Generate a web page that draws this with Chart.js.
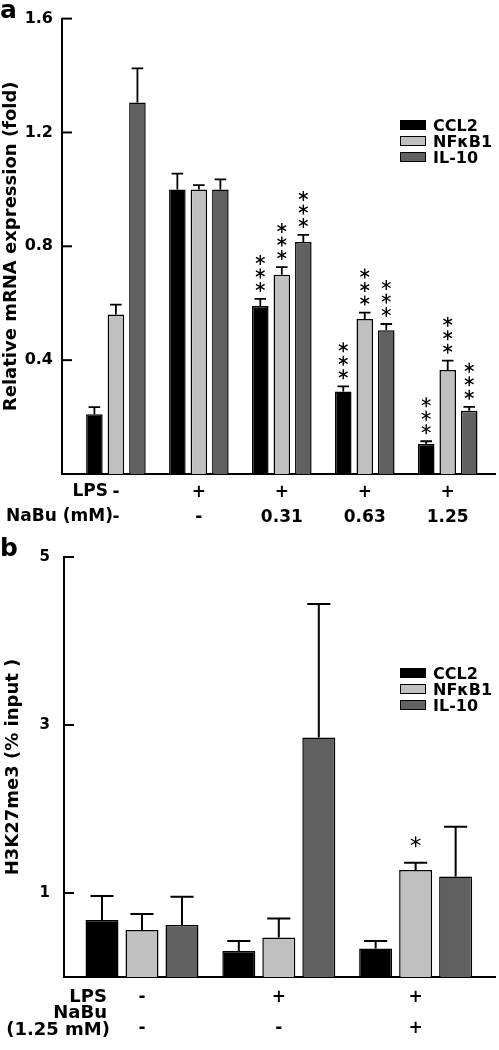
<!DOCTYPE html>
<html>
<head>
<meta charset="utf-8">
<script src="https://cdn.jsdelivr.net/npm/chart.js@4.4.0/dist/chart.umd.min.js"></script>
<style>
    body {
        margin: 0;
        width: 499px;
        height: 1050px;
        position: relative;
        overflow: hidden;
        background: #fff;
        font-family: "DejaVu Sans", sans-serif;
    }
    canvas {
        position: absolute;
        left: 0;
    }
    #chartA {
        top: 0;
    }
    #chartB {
        top: 530px;
    }
    .letter {
        position: absolute;
        left: 0;
        font-weight: bold;
        font-size: 25px;
        line-height: 1;
    }
    .legend {
        position: absolute;
        left: 400px;
        font-size: 16px;
        font-weight: bold;
    }
    .legend .row {
        display: flex;
        align-items: center;
        height: 16px;
    }
    .legend .box {
        width: 26px;
        height: 10px;
        border: 1.5px solid #000;
        box-sizing: border-box;
        margin-right: 7px;
    }
</style>
</head>
<body>
<canvas id="chartA" width="499" height="530"></canvas>
<canvas id="chartB" width="499" height="520"></canvas>
<div class="letter" style="top:-3px">a</div>
<div class="letter" style="top:535px">b</div>
<div class="legend" id="legendA" style="top:117px"></div>
<div class="legend" id="legendB" style="top:665px"></div>
<script>
const seriesNames = ["CCL2", "NF\u03BAB1", "IL-10"]
const seriesColors = ["#000000", "#c0c0c0", "#606060"]

// panel a - mRNA
const lpsA = ["-", "+", "+", "+", "+"]
const nabuA = ["-", "-", "0.31", "0.63", "1.25"]
const ccl2A = [0.21, 1.0, 0.59, 0.29, 0.105]
const nfkb1A = [0.56, 1.0, 0.7, 0.545, 0.365]
const il10A = [1.305, 1.0, 0.815, 0.505, 0.222]
const ccl2ErrA = [0.025, 0.055, 0.025, 0.018, 0.01]
const nfkb1ErrA = [0.035, 0.015, 0.027, 0.022, 0.033]
const il10ErrA = [0.12, 0.035, 0.025, 0.022, 0.014]
const ccl2SigA = ["", "", "***", "***", "***"]
const nfkb1SigA = ["", "", "***", "***", "***"]
const il10SigA = ["", "", "***", "***", "***"]
const yTicksA = [0.4, 0.8, 1.2, 1.6]

// panel b - ChIP
const lpsB = ["-", "+", "+"]
const nabuB = ["-", "-", "+"]
const ccl2B = [0.68, 0.31, 0.34]
const nfkb1B = [0.56, 0.47, 1.275]
const il10B = [0.62, 2.85, 1.195]
const ccl2ErrB = [0.285, 0.12, 0.09]
const nfkb1ErrB = [0.19, 0.225, 0.085]
const il10ErrB = [0.335, 1.59, 0.595]
const ccl2SigB = ["", "", ""]
const nfkb1SigB = ["", "", "*"]
const il10SigB = ["", "", ""]
const yTicksB = [1, 3, 5]

function drawStar(ctx, x, y, r) {
    ctx.beginPath()
    for (let k = 0; k < 3; k++) {
        const a = Math.PI / 2 + (k * Math.PI) / 3
        ctx.moveTo(x - r * Math.cos(a), y - r * Math.sin(a))
        ctx.lineTo(x + r * Math.cos(a), y + r * Math.sin(a))
    }
    ctx.stroke()
}

// error bars, stars, inward ticks, row labels
const extrasPlugin = {
    id: "extras",
    afterDatasetsDraw(chart, args, opts) {
        const ctx = chart.ctx
        const y = chart.scales.y
        ctx.save()
        ctx.strokeStyle = "#000"
        chart.data.datasets.forEach((ds, i) => {
            chart.getDatasetMeta(i).data.forEach((bar, j) => {
                const cap = y.getPixelForValue(ds.data[j].y + ds.errors[j])
                const half = bar.width * 0.35
                ctx.lineWidth = opts.errWidth
                ctx.beginPath()
                ctx.moveTo(bar.x, bar.y)
                ctx.lineTo(bar.x, cap)
                ctx.moveTo(bar.x - half, cap)
                ctx.lineTo(bar.x + half, cap)
                ctx.stroke()
                ctx.lineWidth = 1.4
                for (let k = 0; k < ds.stars[j].length; k++) {
                    drawStar(ctx, bar.x, cap - opts.starGap - k * opts.starStep, opts.starSize)
                }
            })
        })
        ctx.restore()
    },
    afterDraw(chart, args, opts) {
        const ctx = chart.ctx
        const x = chart.scales.x
        const y = chart.scales.y
        const left = chart.chartArea.left
        ctx.save()
        ctx.strokeStyle = "#000"
        ctx.lineWidth = 2
        y.ticks.forEach((t) => {
            const p = y.getPixelForValue(t.value)
            ctx.beginPath()
            ctx.moveTo(left, p)
            ctx.lineTo(left + 10, p)
            ctx.stroke()
        })
        ctx.fillStyle = "#000"
        ctx.font = opts.rowFont
        ctx.textAlign = "right"
        ctx.textBaseline = "middle"
        opts.rowLabels.forEach((r) => {
            ctx.fillText(r.text, x.getPixelForValue(0) - r.dx, x.top + r.dy)
        })
        ctx.restore()
    },
}

function renderLegend(id) {
    document.getElementById(id).innerHTML = seriesNames
        .map((name, i) => `<div class="row"><span class="box" style="background:${seriesColors[i]}"></span>${name}</div>`)
        .join("")
}

function makeChart(id, c) {
    return new Chart(document.getElementById(id), {
        type: "bar",
        data: {
            datasets: seriesNames.map((name, i) => ({
                label: name,
                data: c.values[i].map((v, j) => ({ x: j, y: v })),
                errors: c.errors[i],
                stars: c.stars[i],
                backgroundColor: seriesColors[i],
                borderColor: "#000",
                borderWidth: 1.5,
                categoryPercentage: c.catPct,
                barPercentage: c.barPct,
            })),
        },
        options: {
            responsive: false,
            animation: false,
            layout: { padding: { top: c.top, right: 4, left: 0, bottom: 0 } },
            plugins: {
                legend: { display: false },
                tooltip: { enabled: false },
                extras: {
                    errWidth: c.errWidth,
                    starGap: c.starGap,
                    starStep: 13.5,
                    starSize: c.starSize,
                    rowFont: "bold " + c.rowSize + "px 'DejaVu Sans'",
                    rowLabels: c.rowLabels,
                },
            },
            scales: {
                x: {
                    type: "linear",
                    offset: false,
                    min: c.xMin,
                    max: c.xMax,
                    grid: { display: false, drawTicks: false },
                    border: { display: true, color: "#000", width: 2 },
                    afterBuildTicks: (s) => {
                        s.ticks = c.lps.map((_, j) => ({ value: j }))
                    },
                    afterFit: (s) => {
                        s.height = c.xHeight
                    },
                    ticks: {
                        autoSkip: false,
                        maxRotation: 0,
                        padding: c.xPad,
                        color: "#000",
                        font: { family: "DejaVu Sans", weight: "bold", size: 17, lineHeight: c.xLine + "px" },
                        callback: (v, j) => [c.lps[j], c.nabu[j]],
                    },
                },
                y: {
                    min: 0,
                    max: c.yMax,
                    grid: { display: false, drawTicks: false },
                    border: { display: true, color: "#000", width: 2 },
                    afterBuildTicks: (s) => {
                        s.ticks = c.yTicks.map((v) => ({ value: v }))
                    },
                    afterFit: (s) => {
                        s.width = c.yWidth
                    },
                    ticks: {
                        padding: c.yPad,
                        color: "#000",
                        font: { family: "DejaVu Sans", weight: "bold", size: c.yTickSize },
                        callback: (v) => String(v),
                    },
                    title: {
                        display: true,
                        text: c.title,
                        color: "#000",
                        padding: 0,
                        font: { family: "DejaVu Sans", weight: "bold", size: 18, lineHeight: c.titleLine + "px" },
                    },
                },
            },
        },
        plugins: [extrasPlugin],
    })
}

renderLegend("legendA")
renderLegend("legendB")

makeChart("chartA", {
    values: [ccl2A, nfkb1A, il10A],
    errors: [ccl2ErrA, nfkb1ErrA, il10ErrA],
    stars: [ccl2SigA, nfkb1SigA, il10SigA],
    lps: lpsA,
    nabu: nabuA,
    yTicks: yTicksA,
    yMax: 1.6,
    xMin: -0.65,
    xMax: 4.57,
    catPct: 0.778,
    barPct: 0.77,
    top: 13,
    xHeight: 56,
    xPad: 6,
    xLine: 25,
    yWidth: 62,
    yPad: 9,
    yTickSize: 16,
    title: "Relative mRNA expression (fold)",
    titleLine: 22,
    errWidth: 1.8,
    starGap: 12,
    starSize: 5,
    rowSize: 17,
    rowLabels: [
        { text: "LPS", dx: 8, dy: 18 },
        { text: "NaBu (mM)", dx: 3, dy: 43 },
    ],
})

makeChart("chartB", {
    values: [ccl2B, nfkb1B, il10B],
    errors: [ccl2ErrB, nfkb1ErrB, il10ErrB],
    stars: [ccl2SigB, nfkb1SigB, il10SigB],
    lps: lpsB,
    nabu: nabuB,
    yTicks: yTicksB,
    yMax: 5,
    xMin: -0.57,
    xMax: 2.58,
    catPct: 0.877,
    barPct: 0.825,
    top: 27,
    xHeight: 73,
    xPad: 5,
    xLine: 31,
    yWidth: 64,
    yPad: 14,
    yTickSize: 15,
    title: "H3K27me3 (% input )",
    titleLine: 26,
    errWidth: 2,
    starGap: 21,
    starSize: 5.5,
    rowSize: 18,
    rowLabels: [
        { text: "LPS", dx: 35, dy: 20 },
        { text: "NaBu", dx: 35, dy: 36 },
        { text: "(1.25 mM)", dx: 32, dy: 53 },
    ],
})
</script>
</body>
</html>
